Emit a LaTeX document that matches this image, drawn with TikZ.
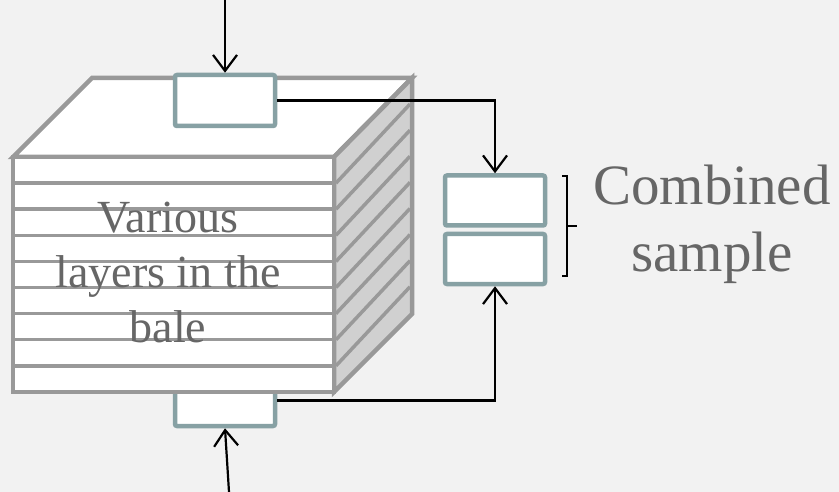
\documentclass[tikz,border=0pt]{standalone}
\usepackage{fontspec}
\setmainfont{Liberation Serif}
\usetikzlibrary{arrows.meta,positioning}
\definecolor{baleGrey}{HTML}{999999}
\definecolor{baleSide}{HTML}{D0D0D0}
\definecolor{smpEdge}{HTML}{87A1A4}
\definecolor{txtGrey}{HTML}{666666}
\definecolor{paper}{HTML}{F2F2F2}
\begin{document}
\begin{tikzpicture}[x=1pt,y=-1pt,
  smp/.style={draw=smpEdge,fill=white,line width=4.5pt,rounded corners=2pt,
              minimum width=100pt,minimum height=51pt,inner sep=0pt},
  bale/.style={draw=baleGrey,line width=4.5pt,line join=miter},
  layer/.style={draw=baleGrey,line width=3.5pt},
  a/.style={-{Straight Barb[length=16pt,width=24pt,line width=2.2pt]},black,line width=2.2pt}]
\fill[paper] (0,0) rectangle (839,492);
\useasboundingbox (0,0) rectangle (839,492);
% sample under the bale (partly hidden)
\node[smp] (bot) at (225,400.5) {};
% the bale
\draw[bale,fill=white] (13,157) -- (92,78) -- (412,78) -- (334,157) -- cycle;
\draw[bale,fill=baleSide] (334,157) -- (412,78) -- (412,314) -- (334,392) -- cycle;
\draw[bale,fill=white] (13,157) rectangle (334,392);
\foreach \k in {1,...,8}{
  \draw[layer] (15,157+\k*26.1) -- (332,157+\k*26.1);
  \draw[layer] (336,157+\k*26.1) -- (410,78+\k*26.1);
}
\node[txtGrey,align=center,anchor=base,font=\fontsize{46}{55}\selectfont]
  (lbl) at (168,342) {Various\\layers in the\\bale};
% sample on top and the combined sample
\node[smp] (top) at (225,100.5) {};
\node[smp,minimum height=50pt] (rtop) at (495,200.5) {};
\node[smp,minimum height=50pt] (rbot) at (495,259) {};
\coordinate (in1) at (225,0);
\coordinate (in2) at (229,492);
\draw[a] (in1) -- (top.north);
\draw[a] (in2) -- (bot.south);
\draw[a] (top.east) -| (rtop.north);
\draw[a] (bot.east) -| (rbot.south);
% bracket
\draw[line width=2.2pt] (562,176) -- (567,176) -- (567,276) -- (562,276);
\draw[line width=2.2pt] (567,226) -- (577,226);
\node[txtGrey,align=center,anchor=base,font=\fontsize{57}{67}\selectfont]
  (comb) at (712,272) {Combined\\sample};
\end{tikzpicture}
\end{document}
